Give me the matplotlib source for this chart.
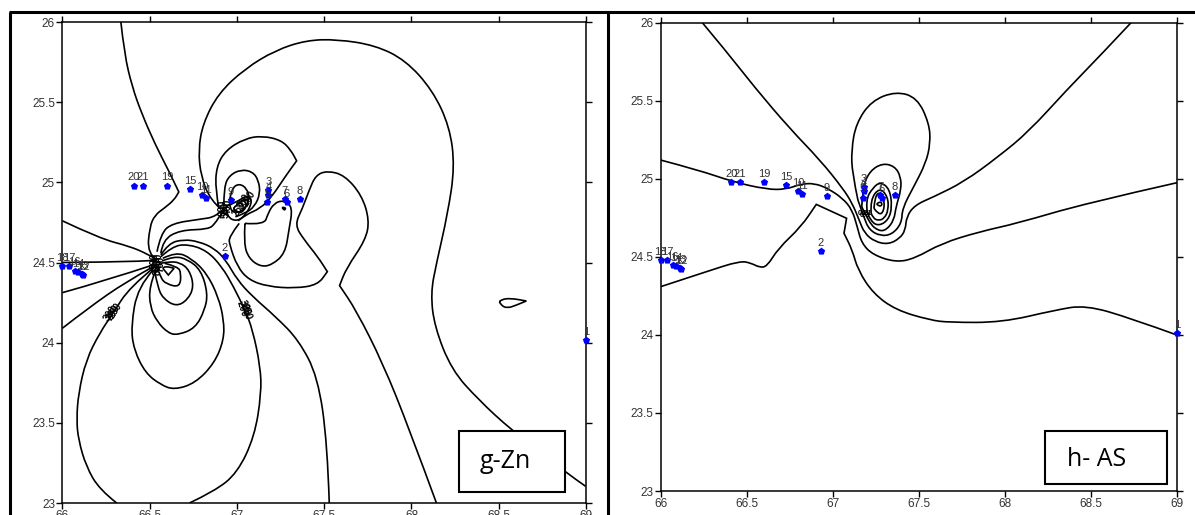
import matplotlib
matplotlib.use("Agg")
import matplotlib.pyplot as plt
from matplotlib.path import Path
from matplotlib.patches import PathPatch, Rectangle
from matplotlib.lines import Line2D

plt.rcParams['font.family'] = ['Liberation Sans', 'DejaVu Sans']

x_ticks = [66, 66.5, 67, 67.5, 68, 68.5, 69]
y_ticks = [23, 23.5, 24, 24.5, 25, 25.5, 26]
x_tick_labels = ['66', '66.5', '67', '67.5', '68', '68.5', '69']
y_tick_labels = ['23', '23.5', '24', '24.5', '25', '25.5', '26']

station_ids = ['1', '2', '3', '4', '5', '6', '7', '8', '9', '10', '11', '12', '13', '14', '15', '16', '17', '18', '19', '20', '21']
station_lon = [69.0, 66.93, 67.18, 67.18, 67.175, 67.285, 67.275, 67.36, 66.965, 66.80, 66.82, 66.12, 66.115, 66.09, 66.73, 66.07, 66.037, 66.0, 66.60, 66.41, 66.46]
station_lat = [24.015, 24.54, 24.95, 24.92, 24.88, 24.88, 24.895, 24.895, 24.89, 24.92, 24.90, 24.42, 24.43, 24.44, 24.96, 24.45, 24.48, 24.48, 24.98, 24.98, 24.98]

# ---------- Zn contours (lon, lat) ----------
zn_a = [(66.335,26),(66.355,25.80),(66.40,25.595),(66.454,25.43),(66.53,25.24),(66.607,25.076),(66.667,24.94),(66.667,24.94),(66.64,24.89),(66.585,24.84),(66.53,24.796),(66.50,24.723),(66.487,24.557),(66.54,24.515)]
zn_b = [(66,24.76),(66.213,24.65),(66.388,24.60),(66.487,24.553),(66.54,24.52)]
zn_c = [(66,24.50),(66.476,24.505),(66.54,24.515)]
zn_d = [(66,24.312),(66.257,24.39),(66.52,24.485)]
zn_e = [(66,24.09),(66.147,24.215),(66.366,24.381),(66.52,24.474)]
zn_f1 = [(66.311,23.0),(66.213,23.083),(66.136,23.228),(66.092,23.394),(66.081,23.519),(66.092,23.685),(66.136,23.893),(66.213,24.059),(66.289,24.183),(66.388,24.349),(66.531,24.474)]
zn_f2 = [(66.728,23.0),(66.871,23.073),(67.002,23.187),(67.101,23.415),(67.140,23.685),(67.134,23.851),(67.09,24.08),(67.046,24.204),(66.98,24.35),(66.914,24.474),(66.827,24.575),(66.717,24.615),(66.629,24.60),(66.564,24.536)]
zn_i = [(67.529,23.0),(67.518,23.374),(67.463,23.789),(67.353,24.017),(67.221,24.163),(67.09,24.287),(67.002,24.391),(66.936,24.516),(66.871,24.588),(66.783,24.63),(66.695,24.644),(66.607,24.619),(66.564,24.547)]
zn_l1 = [(66.52,24.453),(66.432,24.349),(66.393,24.10),(66.41,23.955),(66.476,23.81),(66.564,23.737),(66.64,23.706),(66.761,23.747),(66.871,23.872),(66.925,24.017),(66.925,24.142),(66.893,24.287),(66.827,24.433),(66.739,24.526),(66.651,24.567),(66.575,24.526)]
zn_l2 = [(66.531,24.443),(66.498,24.349),(66.502,24.225),(66.542,24.131),(66.607,24.059),(66.662,24.048),(66.761,24.09),(66.816,24.204),(66.833,24.308),(66.794,24.453),(66.717,24.52),(66.64,24.54),(66.575,24.511)]
zn_l3 = [(66.531,24.433),(66.546,24.349),(66.575,24.277),(66.651,24.225),(66.717,24.266),(66.754,24.349),(66.728,24.453),(66.673,24.501),(66.607,24.505),(66.564,24.495)]
zn_l4 = [(66.553,24.443),(66.564,24.401),(66.596,24.366),(66.673,24.345),(66.68,24.433),(66.662,24.474),(66.586,24.495)]
zn_l5 = [(66.575,24.464),(66.607,24.422),(66.607,24.422),(66.64,24.464),(66.64,24.464),(66.586,24.478),(66.575,24.464)]
zn_u1 = [(66.564,24.557),(66.575,24.64),(66.673,24.702),(66.838,24.707),(66.875,24.744),(66.904,24.796),(66.932,24.827)]
zn_u2 = [(66.542,24.567),(66.564,24.682),(66.629,24.744),(66.783,24.769),(66.882,24.785),(66.925,24.837)]
zn_j = [(68.998,23.104),(68.888,23.187),(68.57,23.457),(68.384,23.644),(68.23,23.83),(68.132,24.10),(68.11,24.308),(68.143,24.495),(68.208,24.806),(68.248,25.097),(68.219,25.346),(68.121,25.574),(67.967,25.761),(67.792,25.855),(67.572,25.892),(67.397,25.886),(67.221,25.824),(67.046,25.709),(66.893,25.554),(66.805,25.367),(66.779,25.201),(66.794,25.035),(66.849,24.889),(66.91,24.831)]
zn_h = [(68.143,23.0),(67.989,23.457),(67.836,23.872),(67.682,24.204),(67.588,24.356),(67.588,24.356),(67.627,24.464),(67.737,24.64),(67.759,24.765),(67.715,24.92),(67.616,25.045),(67.518,25.072),(67.452,25.045),(67.414,24.952),(67.375,24.837),(67.331,24.734),(67.386,24.64),(67.463,24.536),(67.518,24.443),(67.518,24.443),(67.463,24.36),(67.331,24.339),(67.178,24.35),(67.068,24.391),(67.002,24.474),(66.958,24.609),(66.954,24.661),(67.013,24.744)]
zn_k = [(66.897,24.837),(66.877,24.952),(66.882,25.097),(66.936,25.201),(67.046,25.273),(67.145,25.29),(67.254,25.263),(67.309,25.201),(67.342,25.134),(67.342,25.134),(67.276,25.035),(67.2,24.91),(67.134,24.837),(67.046,24.796),(67.007,24.76)]
zn_l = [(66.925,24.848),(66.925,24.972),(66.958,25.045),(67.024,25.08),(67.09,25.066),(67.123,25.014),(67.134,24.931),(67.101,24.848),(67.046,24.806),(66.991,24.785)]
zn_m = [(66.958,24.889),(66.969,24.962),(67.013,24.993),(67.057,24.962),(67.072,24.90),(67.046,24.837),(67.002,24.806),(66.958,24.827),(66.958,24.889)]
zn_k1 = [(66.936,24.848),(66.941,24.785),(67.002,24.754),(67.057,24.806),(67.09,24.889),(67.057,24.92),(67.002,24.879),(66.936,24.848)]
zn_k2 = [(66.98,24.837),(67.013,24.796),(67.057,24.848),(67.068,24.90),(67.024,24.889),(66.98,24.837)]
zn_n = [(67.046,24.744),(67.156,24.734),(67.178,24.806),(67.211,24.868),(67.265,24.889),(67.32,24.848),(67.298,24.702),(67.276,24.557),(67.2,24.484),(67.134,24.474),(67.068,24.526),(67.039,24.619),(67.046,24.744)]
zn_o = [(68.504,24.256),(68.515,24.27),(68.57,24.277),(68.658,24.26),(68.658,24.26),(68.603,24.235),(68.548,24.214),(68.511,24.235),(68.504,24.256)]
zn_tiny = [(67.259,24.844),(67.283,24.844),(67.27,24.821),(67.259,24.844)]
zn_lines = [zn_a, zn_b, zn_c, zn_d, zn_e, zn_f1, zn_f2, zn_i, zn_l1, zn_l2, zn_l3, zn_l4, zn_l5, zn_u1, zn_u2, zn_j, zn_h, zn_k, zn_l, zn_m, zn_k1, zn_k2, zn_n, zn_o, zn_tiny]

zn_labels = [(66.29,24.19,'200',58),(66.305,24.20,'250',58),(66.275,24.18,'300',58),
             (67.03,24.21,'200',-72),(67.05,24.19,'250',-72),(67.04,24.22,'300',-72),
             (66.54,24.49,'600',90),(66.53,24.51,'500',90),(66.55,24.51,'400',90),(66.56,24.49,'700',90),(66.545,24.47,'800',90),
             (66.92,24.84,'600',90),(66.935,24.83,'500',90),(66.95,24.85,'400',90),
             (67.04,24.88,'300',60),(67.07,24.90,'200',60),(67.01,24.84,'250',60)]

# ---------- As contours (lon, lat) ----------
as_a = [(66.242,26),(66.375,25.825),(66.551,25.579),(66.749,25.323),(66.926,25.12),(67.058,24.939),(67.113,24.843),(67.153,24.736),(67.184,24.651),(67.245,24.597),(67.323,24.58),(67.389,24.618),(67.422,24.672),(67.428,24.757),(67.477,24.832),(67.587,24.885),(67.763,24.981),(67.962,25.142),(68.138,25.302),(68.359,25.569),(68.557,25.793),(68.733,26)]
as_b = [(66,25.12),(66.22,25.056),(66.419,24.981),(66.617,24.932),(66.727,24.932),(66.816,24.967),(66.893,24.971),(66.97,24.939),(67.058,24.875),(67.113,24.8),(67.142,24.693),(67.168,24.586),(67.234,24.512),(67.367,24.465),(67.477,24.49),(67.631,24.586),(67.852,24.661),(68.072,24.715),(68.469,24.843),(69,24.975)]
as_c = [(66,24.309),(66.265,24.405),(66.463,24.475),(66.529,24.458),(66.573,24.433),(66.617,24.437),(66.683,24.554),(66.816,24.693),(66.904,24.836),(66.904,24.836),(67.08,24.747),(67.08,24.747),(67.065,24.651),(67.065,24.651),(67.113,24.544),(67.146,24.416),(67.234,24.266),(67.367,24.159),(67.565,24.095),(67.675,24.08),(67.984,24.08),(68.292,24.159),(68.469,24.191),(68.733,24.106),(69,23.999)]
as_u4 = [(67.146,24.864),(67.113,25.035),(67.108,25.184),(67.135,25.355),(67.225,25.50),(67.367,25.56),(67.49,25.52),(67.56,25.355),(67.567,25.227),(67.54,25.099),(67.47,24.949),(67.404,24.811),(67.4,24.715),(67.345,24.644),(67.278,24.633),(67.212,24.672),(67.179,24.757),(67.146,24.864)]
as_u5 = [(67.168,24.821),(67.175,24.949),(67.215,25.05),(67.289,25.10),(67.36,25.08),(67.395,25.014),(67.397,24.928),(67.367,24.821),(67.356,24.736),(67.312,24.672),(67.267,24.665),(67.212,24.715),(67.168,24.821)]
as_u6 = [(67.201,24.779),(67.19,24.864),(67.234,24.945),(67.278,24.98),(67.33,24.935),(67.345,24.821),(67.323,24.736),(67.267,24.698),(67.223,24.725),(67.201,24.779)]
as_u7 = [(67.223,24.779),(67.217,24.864),(67.272,24.945),(67.32,24.885),(67.323,24.8),(67.3,24.747),(67.267,24.732),(67.234,24.747),(67.223,24.779)]
as_u8 = [(67.239,24.811),(67.245,24.885),(67.272,24.917),(67.3,24.864),(67.296,24.789),(67.267,24.768),(67.239,24.811)]
as_u9 = [(67.255,24.838),(67.272,24.856),(67.29,24.838),(67.272,24.82),(67.255,24.838)]
as_lines = [as_a, as_b, as_c, as_u4, as_u5, as_u6, as_u7, as_u8, as_u9]

as_labels = [(67.175,24.775,'0.2',0),(67.2,24.78,'0.1',0),(67.185,24.765,'0.3',0)]

def smooth_path(pts):
    verts = [pts[0]]
    codes = [Path.MOVETO]
    for i in range(1, len(pts) - 1):
        nxt = pts[i + 1]
        end = nxt if i == len(pts) - 2 else ((pts[i][0] + nxt[0]) / 2, (pts[i][1] + nxt[1]) / 2)
        verts += [pts[i], end]
        codes += [Path.CURVE3, Path.CURVE3]
    if len(pts) == 2:
        verts.append(pts[1])
        codes.append(Path.LINETO)
    return Path(verts, codes)

def draw_panel(rect_px, lines, labels, label_size):
    W, H = 1195, 515
    l, r, t, b = rect_px
    ax = fig.add_axes([l / W, 1 - b / H, (r - l) / W, (b - t) / H])
    for pts in lines:
        ax.add_patch(PathPatch(smooth_path(pts), fill=False, ec='black', lw=1.2, clip_on=True))
    for x, y, s, rot in labels:
        ax.text(x, y, s, fontsize=label_size, rotation=rot, ha='center', va='center', color='black', fontweight='bold')
    ax.scatter(station_lon, station_lat, s=30, color='#0000ff', marker='p', zorder=5, clip_on=False, linewidths=0)
    for sid, x, y in zip(station_ids, station_lon, station_lat):
        ax.annotate(sid, (x, y), xytext=(0, 2.2), textcoords='offset points', ha='center', va='bottom',
                    fontsize=8, color='#333333', zorder=6, annotation_clip=False)
    ax.set_xlim(66, 69)
    ax.set_ylim(23, 26)
    ax.set_xticks(x_ticks, x_tick_labels)
    ax.set_yticks(y_ticks, y_tick_labels)
    ax.tick_params(top=True, right=True, direction='out', length=4.5, width=1.0, labelsize=8.5, labelcolor='#333333', pad=0.8)
    for s in ax.spines.values():
        s.set_linewidth(1.1)
    return ax

fig = plt.figure(figsize=(11.95, 5.15), dpi=100)
draw_panel((62.4, 586, 22, 503), zn_lines, zn_labels, 7)
draw_panel((660.7, 1177, 22.7, 491), as_lines, as_labels, 5.5)

W, H = 1195.0, 515.0
def fig_line(x0, y0, x1, y1, lw=2.2):
    fig.add_artist(Line2D([x0 / W, x1 / W], [1 - y0 / H, 1 - y1 / H], color='black', lw=lw, solid_capstyle='butt'))
fig_line(8.5, 12, 1195, 12)
fig_line(9.5, 12, 9.5, 515)
fig_line(608, 12, 608, 515)

def note(x0, y0, x1, y1, txt, tx, ty):
    fig.add_artist(Rectangle((x0 / W, 1 - y1 / H), (x1 - x0) / W, (y1 - y0) / H, transform=fig.transFigure,
                             fc='white', ec='black', lw=1.5, zorder=10))
    fig.text(tx / W, 1 - ty / H, txt, fontsize=18, family=['Open Sans', 'DejaVu Sans'], ha='center', va='center',
             color='black', zorder=11)
note(459, 431, 565, 492, 'g-Zn', 505.5, 461)
note(1045, 431, 1167, 484, 'h- AS', 1097, 460)

fig.savefig('out.png', dpi=100)
